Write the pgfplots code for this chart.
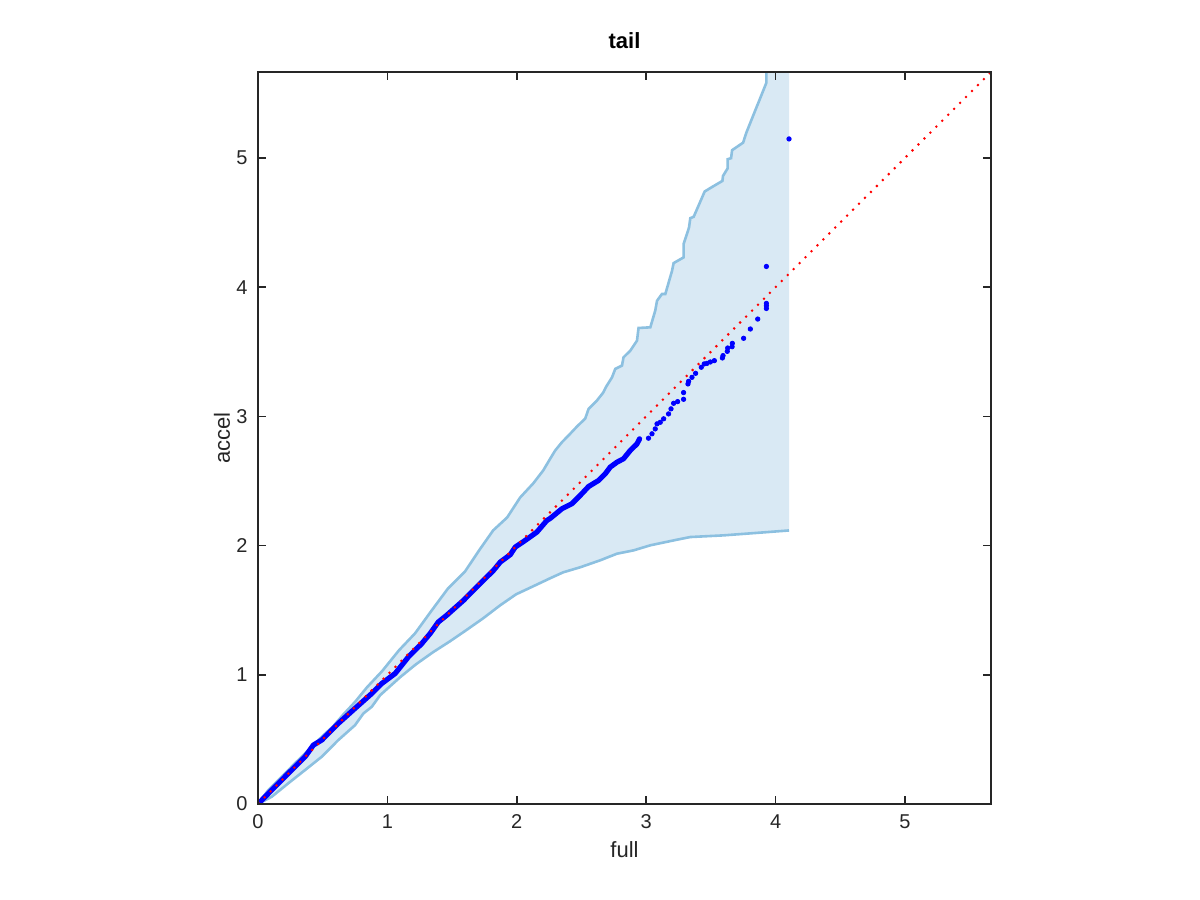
\documentclass[border=0pt]{standalone}
\usepackage{fontspec}
\setmainfont{Liberation Sans}
\usepackage{pgfplots}
\usepackage{pgfplotstable}
\pgfplotsset{compat=1.18}
\usepgfplotslibrary{fillbetween}
\definecolor{bandfill}{RGB}{217,233,244}
\definecolor{bandedge}{RGB}{140,192,224}
\definecolor{axgray}{RGB}{38,38,38}

\pgfplotstableread{
x y
0 0
0.080 0.108
0.183 0.211
0.286 0.315
0.364 0.392
0.493 0.520
0.580 0.600
0.657 0.690
0.750 0.790
0.843 0.904
0.959 1.028
1.090 1.190
1.214 1.321
1.338 1.492
1.469 1.669
1.601 1.801
1.709 1.963
1.817 2.117
1.926 2.218
2.026 2.372
2.127 2.481
2.204 2.581
2.258 2.672
2.297 2.736
2.349 2.800
2.400 2.852
2.465 2.921
2.529 2.983
2.555 3.058
2.619 3.122
2.668 3.184
2.691 3.230
2.736 3.302
2.761 3.367
2.813 3.393
2.825 3.457
2.877 3.508
2.929 3.586
2.941 3.684
3.032 3.689
3.070 3.818
3.084 3.895
3.122 3.947
3.148 3.947
3.200 4.127
3.212 4.186
3.289 4.230
3.289 4.333
3.331 4.461
3.341 4.534
3.367 4.544
3.452 4.740
3.501 4.770
3.589 4.822
3.594 4.861
3.630 4.920
3.630 4.990
3.656 4.998
3.664 5.060
3.749 5.118
3.774 5.195
3.929 5.582
3.929 5.665
3.940 5.800
4.104 6.000
}\upperband

\pgfplotstableread{
x y
0 0
0.106 0.056
0.234 0.160
0.364 0.263
0.493 0.366
0.621 0.495
0.750 0.610
0.814 0.700
0.879 0.752
0.944 0.842
1.098 0.981
1.222 1.082
1.353 1.175
1.485 1.260
1.609 1.345
1.740 1.437
1.872 1.538
1.995 1.623
2.127 1.685
2.258 1.747
2.359 1.793
2.490 1.832
2.645 1.886
2.774 1.937
2.903 1.963
3.032 2.002
3.212 2.040
3.341 2.066
3.599 2.079
3.934 2.104
4.104 2.117
}\lowerband

\pgfplotstableread{
x y
0 0
0.106 0.108
0.234 0.237
0.364 0.366
0.428 0.456
0.493 0.495
0.621 0.624
0.750 0.740
0.879 0.855
0.957 0.933
1.060 1.010
1.162 1.138
1.266 1.242
1.330 1.319
1.394 1.409
1.459 1.461
1.588 1.576
1.717 1.706
1.820 1.808
1.872 1.872
1.950 1.930
1.988 1.988
2.065 2.040
2.155 2.104
2.233 2.195
2.258 2.210
2.349 2.285
2.426 2.324
2.490 2.388
2.555 2.457
2.632 2.504
2.684 2.556
2.722 2.607
2.774 2.645
2.825 2.672
2.877 2.736
2.929 2.787
2.949 2.826
}\densepts

\pgfplotstableread{
x y
3.018 2.831
3.045 2.865
3.070 2.903
3.084 2.942
3.109 2.954
3.135 2.981
3.173 3.019
3.192 3.058
3.212 3.101
3.243 3.114
3.289 3.132
3.289 3.184
3.323 3.251
3.328 3.271
3.354 3.302
3.382 3.333
3.426 3.380
3.449 3.406
3.470 3.410
3.496 3.421
3.527 3.431
3.589 3.452
3.594 3.470
3.627 3.503
3.630 3.529
3.664 3.539
3.666 3.565
3.753 3.604
3.805 3.676
3.862 3.753
3.929 3.835
3.929 3.856
3.929 3.874
3.929 4.160
4.104 5.147
}\sparsepts

\begin{document}
\begin{tikzpicture}
\begin{axis}[
  at={(129pt,48pt)}, anchor=south west,
  scale only axis, width=366.5pt, height=366pt,
  xmin=0, xmax=5.665, ymin=0, ymax=5.665,
  xtick={0,1,2,3,4,5}, ytick={0,1,2,3,4,5},
  axis on top,
  axis line style={axgray, line width=0.75pt},
  major tick style={axgray, line width=0.75pt},
  major tick length=4pt,
  tick label style={font=\fontsize{10}{12}\selectfont, text=axgray},
  /pgf/number format/assume math mode=true,
  xticklabel style={yshift=-1.7pt},
  yticklabel style={xshift=-1.7pt},
  xlabel={full}, ylabel={accel}, title={tail},
  label style={font=\fontsize{11}{13}\selectfont, text=axgray},
  xlabel style={at={(axis description cs:0.5,-0.0628)}, anchor=center},
  ylabel style={at={(axis description cs:-0.049,0.5)}, anchor=center},
  title style={font=\bfseries\fontsize{11}{13}\selectfont, at={(axis description cs:0.5,1)}, anchor=center, yshift=9.5pt},
]
\addplot[draw=none, name path=U, forget plot] table {\upperband};
\addplot[draw=none, name path=L, forget plot] table {\lowerband};
\addplot[bandfill, draw=none] fill between[of=U and L];
\addplot[bandedge, line width=1.3pt] table {\upperband};
\addplot[bandedge, line width=1.3pt] table {\lowerband};
\addplot[blue, line width=2.6pt, line join=round, line cap=round, mark=none] table {\densepts};
\addplot[blue, only marks, mark=*, mark size=1.1pt, mark options={fill=blue, draw=none}] table {\sparsepts};
\addplot[red, line width=1pt, dash pattern=on 1pt off 3.2pt] coordinates {(0,0) (5.665,5.665)};
\end{axis}
\pgfresetboundingbox
\path (0,0) rectangle (600pt,450pt);
\end{tikzpicture}
\end{document}
